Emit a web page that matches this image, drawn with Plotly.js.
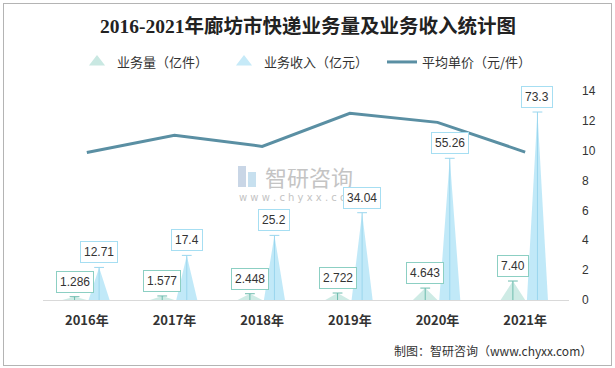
<!DOCTYPE html>
<html><head><meta charset="utf-8">
<script src="https://cdn.plot.ly/plotly-3.0.1.min.js"></script>
<style>
html,body{margin:0;padding:0;background:#fff;}
#wrap{position:relative;width:615px;height:368px;}
#chart{width:615px;height:368px;}
#frame{position:absolute;left:3px;top:3px;width:607px;height:361px;border:1px solid #b4b4b4;pointer-events:none;}
</style></head>
<body>
<div id="wrap"><div id="chart"></div><div id="frame"></div></div>
<script>
const years = ['2016年','2017年','2018年','2019年','2020年','2021年'];
const volume = [1.286, 1.577, 2.448, 2.722, 4.643, 7.40];
const volumeLabels = ['1.286','1.577','2.448','2.722','4.643','7.40'];
const income = [12.71, 17.4, 25.2, 34.04, 55.26, 73.3];
const incomeLabels = ['12.71','17.4','25.2','34.04','55.26','73.3'];
const price = [9.88, 11.03, 10.29, 12.51, 11.90, 9.91];

const OFF = 0.14, HW = 0.12, HWV = 0.14;
const idx = years.map((_, i) => i);

function spikes(vals, shift, hw) {
  const x = [], y = [];
  vals.forEach((v, i) => {
    const c = i + shift;
    x.push(c - hw, c, c + hw, null);
    y.push(0, v, 0, null);
  });
  return {x, y};
}
function stems(vals, shift) {
  const x = [], y = [];
  vals.forEach((v, i) => { x.push(i + shift, i + shift, null); y.push(0, v, null); });
  return {x, y};
}
const sV = spikes(volume, -OFF, HWV), sI = spikes(income, OFF, HW);
const tV = stems(volume, -OFF), tI = stems(income, OFF);

const traces = [
  {x: sV.x, y: sV.y, type: 'scatter', mode: 'lines', fill: 'toself', fillcolor: 'rgba(190,228,220,0.75)',
   line: {width: 0, color: 'rgba(0,0,0,0)'}, showlegend: false, hoverinfo: 'skip', yaxis: 'y'},
  {x: sI.x, y: sI.y, type: 'scatter', mode: 'lines', fill: 'toself', fillcolor: 'rgba(190,232,248,0.95)',
   line: {width: 0, color: 'rgba(0,0,0,0)'}, showlegend: false, hoverinfo: 'skip', yaxis: 'y'},
  {x: tV.x, y: tV.y, type: 'scatter', mode: 'lines', line: {width: 1, color: '#6dbcae'}, showlegend: false, hoverinfo: 'skip'},
  {x: tI.x, y: tI.y, type: 'scatter', mode: 'lines', line: {width: 1, color: '#9ad6ee'}, showlegend: false, hoverinfo: 'skip'},
  {x: idx.map(i => i - OFF), y: volume, type: 'scatter', mode: 'markers', marker: {symbol: 'line-ew', size: 7, line: {width: 1, color: '#6dbcae'}}, showlegend: false, hoverinfo: 'skip'},
  {x: idx.map(i => i + OFF), y: income, type: 'scatter', mode: 'markers', marker: {symbol: 'line-ew', size: 7, line: {width: 1, color: '#9ad6ee'}}, showlegend: false, hoverinfo: 'skip'},
  {x: idx, y: price, type: 'scatter', mode: 'lines', line: {width: 3, color: '#5a8fa3'}, yaxis: 'y2', showlegend: false},
  // legend entries
  {x: [null], y: [null], type: 'scatter', mode: 'markers', name: '业务量（亿件）', legend: 'legend',
   marker: {symbol: 'triangle-up', size: 14, color: '#c9e8e2'}},
  {x: [null], y: [null], type: 'scatter', mode: 'markers', name: '业务收入（亿元）', legend: 'legend2',
   marker: {symbol: 'triangle-up', size: 14, color: '#c6eaf8'}},
  {x: [null], y: [null], type: 'scatter', mode: 'lines', name: '平均单价（元/件）', legend: 'legend3',
   line: {width: 3, color: '#5a8fa3'}}
];

const annFont = {family: 'Liberation Sans, Noto Sans CJK SC, sans-serif', size: 12, color: '#333'};
const annotations = [
  {xref: 'paper', yref: 'paper', x: (263 - 43) / 526, y: (300 - 176) / 209, xanchor: 'left', yanchor: 'middle', showarrow: false,
   text: '智研咨询', font: {family: 'Noto Sans CJK SC', size: 22, color: '#c4c4c4'}},
  {xref: 'paper', yref: 'paper', x: (237 - 43) / 526, y: (300 - 197) / 209, xanchor: 'left', yanchor: 'middle', showarrow: false,
   text: 'w w w . c h y x x . c o m', font: {family: 'DejaVu Sans', size: 10, color: '#c4c4c4'}},
  {xref: 'paper', yref: 'paper', x: (594 - 43) / 526, y: (300 - 350) / 209, xanchor: 'right', yanchor: 'middle', showarrow: false,
   text: '制图：智研咨询（www.chyxx.com）', font: {family: 'Noto Sans CJK SC', size: 12, color: '#333'}}
];
volume.forEach((v, i) => annotations.push({x: i - OFF, y: v, xref: 'x', yref: 'y', yanchor: 'bottom', yshift: 4, showarrow: false,
  text: volumeLabels[i], font: annFont, bgcolor: '#fff', bordercolor: '#8ccfc3', borderwidth: 1, borderpad: 3}));
income.forEach((v, i) => annotations.push({x: i + OFF, y: v, xref: 'x', yref: 'y', yanchor: 'bottom', yshift: 4, showarrow: false,
  text: incomeLabels[i], font: annFont, bgcolor: '#fff', bordercolor: '#a6def2', borderwidth: 1, borderpad: 3}));

const shapes = [
  {type: 'rect', xref: 'paper', yref: 'paper', x0: (238 - 43) / 526, x1: (246 - 43) / 526, y0: (300 - 187) / 209, y1: (300 - 166) / 209,
   fillcolor: '#c9d6e6', line: {width: 0}, layer: 'below'},
  {type: 'rect', xref: 'paper', yref: 'paper', x0: (248 - 43) / 526, x1: (256 - 43) / 526, y0: (300 - 187) / 209, y1: (300 - 172) / 209,
   fillcolor: '#c7e0ef', line: {width: 0}, layer: 'below'}
];

const legFont = {family: 'Noto Sans CJK SC', size: 13, color: '#333'};
const legY = 1 + (91 - 62) / 209;
function leg(px) {
  return {orientation: 'h', x: (px - 43) / 526, xanchor: 'left', y: legY, yanchor: 'middle', font: legFont,
    itemwidth: 30, bgcolor: 'rgba(0,0,0,0)', borderwidth: 0};
}

const layout = {
  width: 615, height: 368,
  margin: {l: 43, r: 46, t: 91, b: 68},
  paper_bgcolor: '#fff', plot_bgcolor: '#fff',
  font: {family: 'Noto Sans CJK SC, sans-serif', color: '#333'},
  title: {text: '2016-2021年廊坊市快递业务量及业务收入统计图', x: 308 / 615, xanchor: 'center', y: 1 - 26 / 368, yanchor: 'middle',
    font: {family: 'Liberation Serif, Noto Sans CJK SC', size: 19.5, color: '#222', weight: 'bold'}},
  xaxis: {range: [-0.5, 5.5], tickvals: idx, ticktext: years, showgrid: false, zeroline: false,
    showline: true, linecolor: '#d9d9d9', linewidth: 1, ticks: '', ticklabelstandoff: 8,
    tickfont: {family: 'Noto Sans CJK SC', size: 13, color: '#333', weight: 'bold'}, fixedrange: true},
  yaxis: {range: [0, 81.5], visible: false, showgrid: false, zeroline: false, fixedrange: true},
  yaxis2: {range: [0, 14], overlaying: 'y', side: 'right', dtick: 2, showgrid: false, zeroline: false, showline: false,
    ticks: '', ticklabelstandoff: 12, tickfont: {family: 'Liberation Sans, sans-serif', size: 12, color: '#333'}},
  showlegend: true,
  legend: leg(77), legend2: leg(224), legend3: leg(382),
  annotations, shapes
};
Plotly.newPlot('chart', traces, layout, {displayModeBar: false, staticPlot: true});
</script>
</body></html>
